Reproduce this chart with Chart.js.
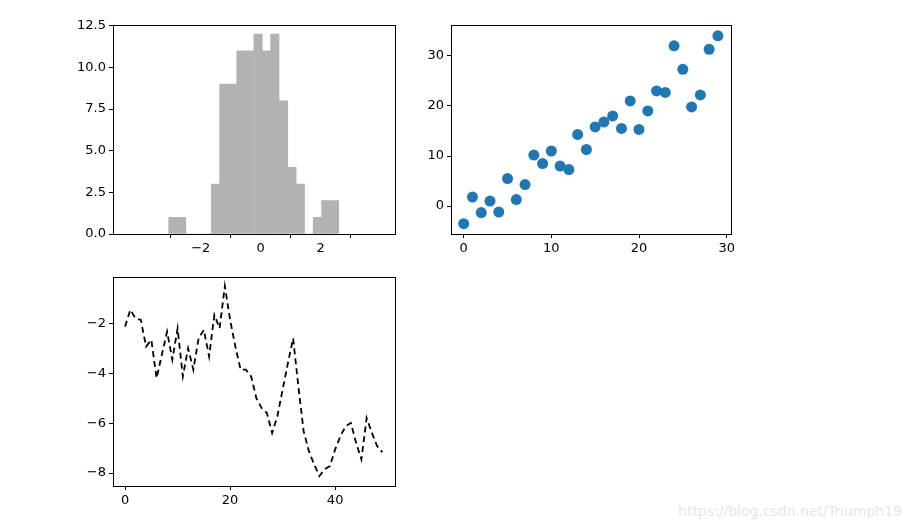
<!DOCTYPE html>
<html><head><meta charset="utf-8">
<script src="https://cdn.jsdelivr.net/npm/chart.js@4"></script>
<style>
body{margin:0;width:910px;height:527px;background:#fff;position:relative;overflow:hidden;font-family:"DejaVu Sans"}
canvas{position:absolute}
#wm{position:absolute;right:8px;bottom:8px;color:#e6e6e6;font-size:14px;font-family:"DejaVu Sans"}
</style></head><body>
<canvas id="c1"></canvas><canvas id="c2"></canvas><canvas id="c3"></canvas>
<div id="wm">https://blog.csdn.net/Triumph19</div>
<script>
const histCenters=[-2.93,-2.64,-2.36,-2.08,-1.79,-1.51,-1.23,-0.94,-0.66,-0.38,-0.09,0.19,0.47,0.76,1.04,1.32,1.61,1.89,2.17,2.46];
const histCounts=[1,1,0,0,0,3,9,9,11,11,12,11,12,8,4,3,0,1,2,2];
const histXTicks=[-2,0,2];
const histYTicks=[0,2.5,5,7.5,10,12.5];
const scatterY=[-3.5,1.8,-1.3,1,-1.2,5.5,1.3,4.3,10.2,8.5,11,8,7.3,14.3,11.3,15.8,16.8,18,15.5,21,15.3,19,23,22.7,32,27.3,19.8,22.2,31.3,34];
const scatterXTicks=[0,10,20,30];
const scatterYTicks=[0,10,20,30];
const walk=[-2.12,-1.45,-1.79,-1.85,-2.92,-2.65,-4.19,-3.25,-2.32,-3.45,-2.19,-4.12,-2.99,-3.85,-2.59,-2.25,-3.32,-1.65,-2.19,-0.49,-1.85,-2.92,-3.85,-3.85,-4.12,-4.99,-5.39,-5.59,-6.39,-5.72,-4.65,-3.59,-2.59,-4.52,-6.32,-7.12,-7.65,-8.12,-7.85,-7.72,-7.05,-6.52,-6.12,-5.99,-6.79,-7.45,-5.79,-6.39,-6.92,-7.16];
const walkXTicks=[0,20,40];
const walkYTicks=[-8,-6,-4,-2];

Chart.defaults.font.family="DejaVu Sans";
Chart.defaults.font.size=13;
Chart.defaults.color="#000";
const frame={id:'frame',afterDraw(c){const a=c.chartArea,x=c.ctx;x.save();x.strokeStyle='#000';x.lineWidth=1;x.strokeRect(Math.round(a.left)+0.5,Math.round(a.top)+0.5,Math.round(a.right-a.left),Math.round(a.bottom-a.top));x.restore();}};
function axis(min,max,ticks,isY){return{type:'linear',min,max,
 grid:{display:true,drawOnChartArea:false,drawTicks:true,tickLength:4,color:'#000'},
 border:{display:false},
 afterBuildTicks:s=>{s.ticks=ticks.map(v=>({value:v}));},
 afterFit:s=>{if(isY)s.width=53;else s.height=30;},
 ticks:{autoSkip:false,maxRotation:0,padding:3,callback:v=>(v<0?'\u2212'+(-v):String(v)).replace(/^(\u2212?\d+\.\d)$/,'$1')+(isY&&ticks.some(t=>t%1)&&v%1===0?'.0':'')}};}
function place(id,left,top){const c=document.getElementById(id);c.style.left=left+'px';c.style.top=top+'px';c.width=340;c.height=250;return c;}
const base=(plugins)=>({responsive:false,animation:false,devicePixelRatio:1,layout:{padding:{top:10,right:5,left:0,bottom:0}},plugins:{legend:{display:false},tooltip:{enabled:false}}});

new Chart(place('c1',60,14),{type:'bar',data:{datasets:[{data:histCenters.map((x,i)=>({x,y:histCounts[i]})),backgroundColor:'#b2b2b2',barPercentage:1,categoryPercentage:1,borderWidth:0}]},
 options:Object.assign(base(),{scales:{x:axis(-3.36,2.91,histXTicks,false),y:axis(0,12.56,histYTicks,true)}}),plugins:[frame]});

new Chart(place('c2',398,14),{type:'scatter',data:{datasets:[{data:scatterY.map((y,i)=>({x:i,y})),backgroundColor:'#1f77b4',borderWidth:0,pointRadius:5.5}]},
 options:Object.assign(base(),{scales:{x:axis(-1.45,30.45,scatterXTicks,false),y:axis(-5.57,36.2,scatterYTicks,true)}}),plugins:[frame]});

new Chart(place('c3',60,266),{type:'line',data:{datasets:[{data:walk.map((y,i)=>({x:i,y})),borderColor:'#000',borderWidth:1.8,borderDash:[6,4],pointRadius:0,tension:0,fill:false}]},
 options:Object.assign(base(),{scales:{x:axis(-2.3,51.4,walkXTicks,false),y:axis(-8.52,-0.12,walkYTicks,true)}}),plugins:[frame]});
</script></body></html>
